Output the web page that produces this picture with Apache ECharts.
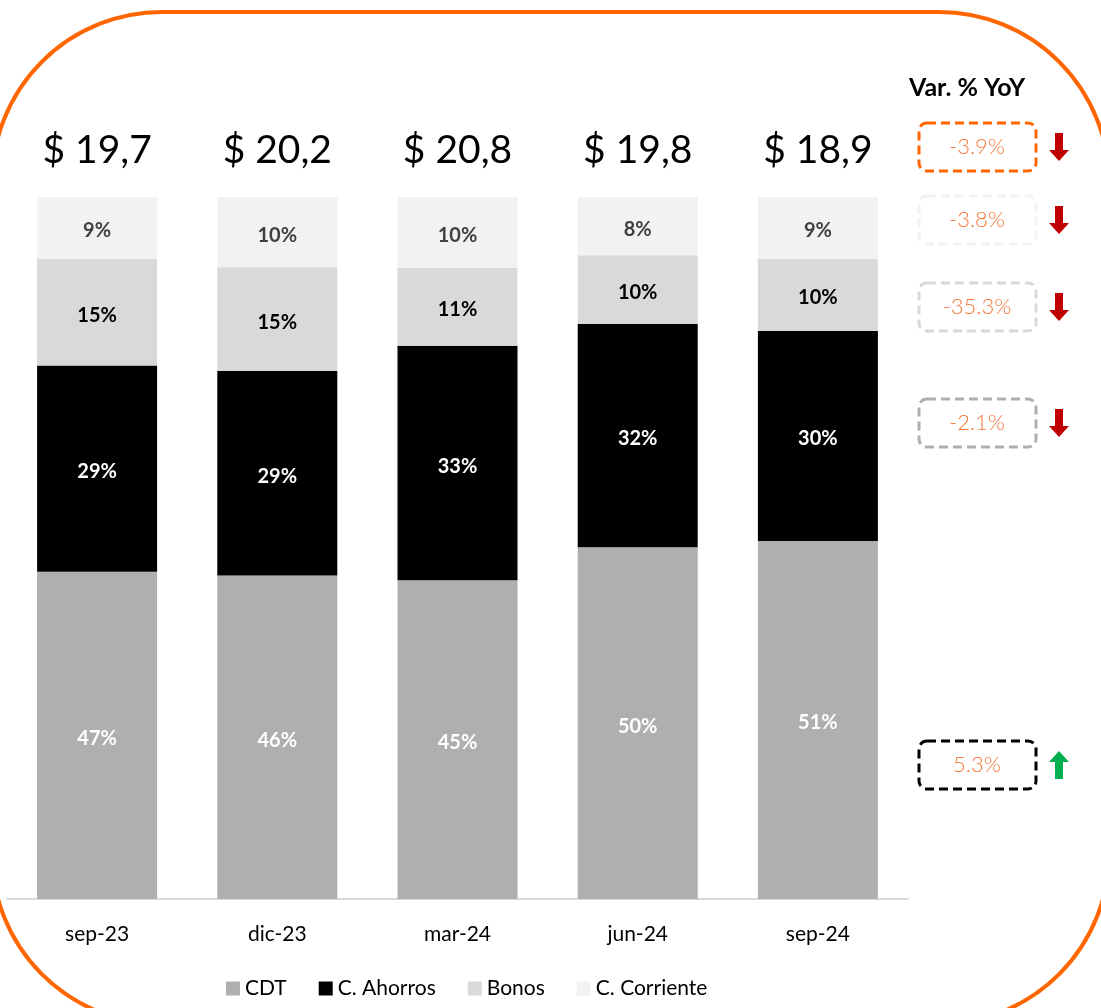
<!DOCTYPE html>
<html>
<head>
<meta charset="utf-8">
<script src="https://cdn.jsdelivr.net/npm/echarts@6/dist/echarts.min.js"></script>
<style>
  html, body { margin: 0; padding: 0; background: #fff; }
  #main { width: 1101px; height: 1008px; }
</style>
</head>
<body>
<div id="main"></div>
<script>
var categories = ['sep-23', 'dic-23', 'mar-24', 'jun-24', 'sep-24'];
var totals = ['$ 19,7', '$ 20,2', '$ 20,8', '$ 19,8', '$ 18,9'];
var cdt = [46.6, 46.1, 45.4, 50.1, 51.0];
var ahorros = [29.4, 29.1, 33.4, 31.8, 29.9];
var bonos = [15.2, 14.8, 11.1, 9.8, 10.3];
var corriente = [8.8, 10.0, 10.1, 8.3, 8.8];

var yoyLabels = ['-3.9%', '-3.8%', '-35.3%', '-2.1%', '5.3%'];
var yoyUp = [false, false, false, false, true];
var yoyBorder = ['#FF6600', '#F2F2F2', '#D9D9D9', '#AFAFAF', '#000000'];
var yoyY = [147, 220, 307, 423, 765];

var font = "Lato, 'Noto Sans', sans-serif";
var myChart = echarts.init(document.getElementById('main'));

function pct(p) { return Math.round(p.value) + '%'; }

function seg(name, data, color, labelColor) {
    return {
        name: name,
        type: 'bar',
        stack: 'total',
        barWidth: 120,
        data: data,
        itemStyle: { color: color },
        label: {
            show: true,
            formatter: pct,
            color: labelColor,
            fontSize: 20,
            fontWeight: 'bold',
            offset: [0, 3],
            fontFamily: font
        }
    };
}

function arrow(cx, cy, up, color) {
    var pts = up
        ? [[cx - 4, cy + 14], [cx - 4, cy - 3], [cx - 10, cy - 3], [cx, cy - 14], [cx + 10, cy - 3], [cx + 4, cy - 3], [cx + 4, cy + 14]]
        : [[cx - 4, cy - 14], [cx - 4, cy + 3], [cx - 10, cy + 3], [cx, cy + 14], [cx + 10, cy + 3], [cx + 4, cy + 3], [cx + 4, cy - 14]];
    return { type: 'polygon', shape: { points: pts }, style: { fill: color }, silent: true };
}

var graphics = [
    {
        type: 'rect',
        shape: { x: -8, y: 12, width: 1117, height: 1012, r: 170 },
        style: { fill: 'none', stroke: '#FF6600', lineWidth: 4 },
        silent: true
    },
    {
        type: 'text',
        x: 967, y: 88,
        style: { text: 'Var. % YoY', fontSize: 25, fontWeight: 'bold', fill: '#000', align: 'center', verticalAlign: 'middle', fontFamily: font }
    }
];
yoyLabels.forEach(function (t, i) {
    graphics.push({
        type: 'rect',
        shape: { x: 919, y: yoyY[i] - 24, width: 117, height: 48, r: 8 },
        style: { fill: 'none', stroke: yoyBorder[i], lineWidth: 3, lineDash: [9, 5] },
        silent: true
    });
    graphics.push({
        type: 'text',
        x: 977, y: yoyY[i],
        style: { text: t, fontSize: 22, fontWeight: 300, fill: '#F4793B', align: 'center', verticalAlign: 'middle', fontFamily: font }
    });
    graphics.push(arrow(1059, yoyY[i], yoyUp[i], yoyUp[i] ? '#00B050' : '#C00000'));
});

var option = {
    backgroundColor: '#fff',
    animation: false,
    textStyle: { fontFamily: font },
    grid: { left: 7, right: 193, top: 197, bottom: 109 },
    legend: {
        bottom: 4,
        left: 221,
        itemWidth: 14,
        itemHeight: 14,
        itemGap: 32,
        icon: 'rect',
        textStyle: { fontSize: 21, color: '#000', fontFamily: font },
        data: ['CDT', 'C. Ahorros', 'Bonos', 'C. Corriente']
    },
    xAxis: [{
        type: 'category',
        data: categories,
        axisLine: { lineStyle: { color: '#D9D9D9', width: 2 } },
        axisTick: { show: false },
        axisLabel: { color: '#000', fontSize: 21, margin: 25, fontFamily: font }
    }, {
        type: 'category',
        position: 'top',
        data: totals,
        axisLine: { show: false },
        axisTick: { show: false },
        axisLabel: { color: '#000', fontSize: 39, margin: 27, fontFamily: font }
    }],
    yAxis: {
        type: 'value',
        min: 0,
        max: 100,
        show: false
    },
    series: [
        seg('CDT', cdt, '#AFAFAF', '#fff'),
        seg('C. Ahorros', ahorros, '#000000', '#fff'),
        seg('Bonos', bonos, '#D9D9D9', '#000'),
        seg('C. Corriente', corriente, '#F2F2F2', '#404040')
    ],
    graphic: graphics
};
myChart.setOption(option);
</script>
</body>
</html>
